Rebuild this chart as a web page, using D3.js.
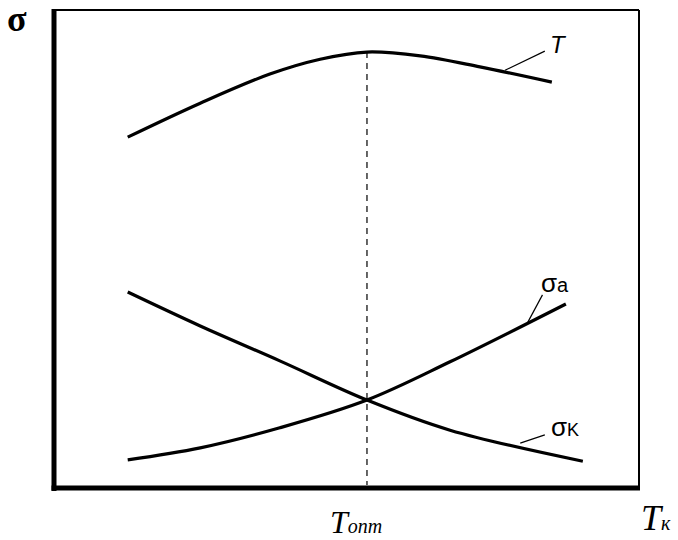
<!DOCTYPE html>
<html>
<head>
<meta charset="utf-8">
<script src="https://cdn.jsdelivr.net/npm/d3@7"></script>
<style>
  html, body { margin: 0; padding: 0; background: #fff; }
  svg { display: block; }
  .lbl { font-family: "Liberation Serif", "DejaVu Serif", serif; fill: #000; }
  .sans { font-family: "Liberation Sans", Arial, sans-serif; fill: #000; }
</style>
</head>
<body>
<svg id="chart" width="678" height="540"></svg>
<script>
// Curve samples in chart units (x: Tк, y: σ)
const tX      = [1.26, 2.50, 3.69, 4.55, 5.35, 6.26, 7.28, 8.51];
const tY      = [7.34, 8.05, 8.66, 8.97, 9.12, 9.04, 8.81, 8.49];
const sigmaAX = [1.26, 2.50, 3.86, 5.35, 6.77, 8.75];
const sigmaAY = [0.59, 0.84, 1.26, 1.84, 2.64, 3.85];
const sigmaKX = [1.26, 2.50, 3.86, 5.35, 6.77, 9.04];
const sigmaKY = [4.10, 3.39, 2.66, 1.84, 1.21, 0.56];
const tOpt = 5.35;

const svg = d3.select("#chart");
const m = { left: 54, right: 639, top: 10, bottom: 488 };

const x = d3.scaleLinear().domain([0, 10]).range([m.left, m.right]);
const y = d3.scaleLinear().domain([0, 10]).range([m.bottom, m.top]);

const line = d3.line().x(d => x(d[0])).y(d => y(d[1])).curve(d3.curveCatmullRom.alpha(0.5));
const zip = (a, b) => a.map((v, i) => [v, b[i]]);

// Frame: thin top/right, heavy left/bottom axes
svg.append("line").attr("x1", m.left).attr("x2", m.right).attr("y1", m.top).attr("y2", m.top)
  .attr("stroke", "#000").attr("stroke-width", 2);
svg.append("line").attr("x1", m.right).attr("x2", m.right).attr("y1", m.top).attr("y2", m.bottom)
  .attr("stroke", "#000").attr("stroke-width", 2);
svg.append("line").attr("x1", m.left).attr("x2", m.left).attr("y1", m.top - 1).attr("y2", m.bottom + 3)
  .attr("stroke", "#000").attr("stroke-width", 5);
svg.append("line").attr("x1", m.left - 2.5).attr("x2", m.right + 1).attr("y1", m.bottom).attr("y2", m.bottom)
  .attr("stroke", "#000").attr("stroke-width", 5);

// Optimum marker
svg.append("line").attr("x1", x(tOpt)).attr("x2", x(tOpt))
  .attr("y1", y(9.12)).attr("y2", m.bottom - 3)
  .attr("stroke", "#000").attr("stroke-width", 1.2).attr("stroke-dasharray", "6,5");

// Curves
[[tX, tY], [sigmaAX, sigmaAY], [sigmaKX, sigmaKY]].forEach(([xs, ys]) => {
  svg.append("path").attr("d", line(zip(xs, ys)))
    .attr("fill", "none").attr("stroke", "#000").attr("stroke-width", 3.2)
    .attr("stroke-linecap", "butt");
});

// Leader lines for curve labels
const leaders = [
  [[7.71, 8.74], [8.39, 9.14]],
  [[8.10, 3.47], [8.35, 4.04]],
  [[7.97, 0.94], [8.39, 1.11]]
];
leaders.forEach(([a, b]) => {
  svg.append("line").attr("x1", x(a[0])).attr("y1", y(a[1])).attr("x2", x(b[0])).attr("y2", y(b[1]))
    .attr("stroke", "#000").attr("stroke-width", 1.2);
});

// Labels
svg.append("text").attr("class", "lbl").attr("x", 7).attr("y", 31)
  .attr("font-size", 36).attr("font-weight", "bold").text("σ");
svg.append("text").attr("class", "sans").attr("x", 550).attr("y", 53)
  .attr("font-size", 24).attr("font-style", "italic").text("T");
svg.append("text").attr("class", "sans").attr("x", 541).attr("y", 292)
  .attr("font-size", 26).text("σ")
  .append("tspan").attr("font-size", 20).text("a");
svg.append("text").attr("class", "sans").attr("x", 551).attr("y", 436)
  .attr("font-size", 26).text("σ")
  .append("tspan").attr("font-size", 18).text("K");
svg.append("text").attr("class", "lbl").attr("x", 330).attr("y", 533)
  .attr("font-size", 32).attr("font-style", "italic").text("T")
  .append("tspan").attr("font-size", 20).text("опт");
svg.append("text").attr("class", "lbl").attr("x", 641).attr("y", 530)
  .attr("font-size", 36).attr("font-style", "italic").text("T")
  .append("tspan").attr("font-size", 20).text("к");
</script>
</body>
</html>
